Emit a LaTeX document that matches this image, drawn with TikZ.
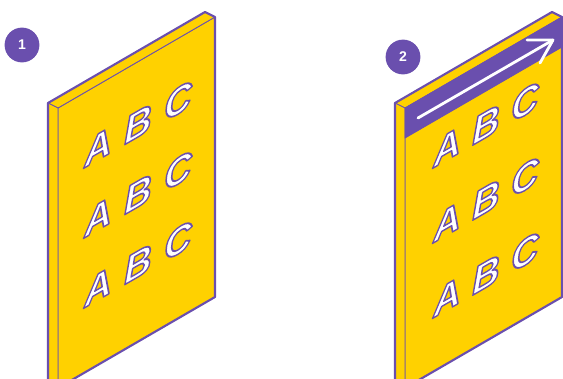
\documentclass[tikz,border=0pt]{standalone}
\usepackage{fontspec}
\setsansfont{Liberation Sans}
\usetikzlibrary{calc}
\definecolor{lilac}{HTML}{6A4FAE}
\definecolor{gold}{HTML}{FFD100}
\tikzset{
  face/.style={fill=gold, draw=lilac, line width=0.6pt, line join=round},
  rim/.style={draw=lilac, line width=1.5pt, line join=round},
  band/.style={fill=lilac, draw=lilac, line width=0.6pt, line join=round},
  badge/.style={circle, fill=lilac, text=white, minimum size=0.87cm, inner sep=0pt,
    font=\sffamily\bfseries},
  letter/.style={font=\sffamily\bfseries\itshape\fontsize{27}{27}\selectfont, inner sep=0pt},
  sweep/.style={draw=white, line width=2pt, line cap=round, line join=round}
}
% white glyph with a lilac outline (fill + stroke render mode)
\newcommand{\glyph}[1]{%
  \special{pdf:literal direct q 1 g 0.416 0.310 0.682 RG 2 Tr 1.1 w 1 j}#1%
  \special{pdf:literal direct Q}}

\begin{document}
\begin{tikzpicture}[x=0.025cm, y=0.025cm]
  \useasboundingbox (0,0) rectangle (563,378);
  \clip (0,0) rectangle (563,378);

  % ---- the two boards, same body, shifted ----
  \foreach \bx in {0,347} {
    \begin{scope}[xshift=\bx*0.025cm]
      \coordinate (tl) at (58,270);
      \coordinate (tr) at (215,361);
      \coordinate (br) at (215,81);
      \coordinate (bl) at (58,-10);
      \draw[face] (bl) -- (tl) -- (tr) -- (br) -- cycle;
      \draw[face] (tl) -- ($(tl)+(-10,5)$) -- ($(tr)+(-10,5)$) -- (tr) -- cycle;
      \draw[face] (tl) -- ($(tl)+(-10,5)$) -- ($(bl)+(-10,5)$) -- (bl) -- cycle;
    \end{scope}
  }

  % ---- purple band across the top of board 2 ----
  \draw[band] (405,270) -- (562,361) -- (562,331) -- (405,240) -- cycle;

  % outer rims
  \foreach \bx in {0,347} {
    \begin{scope}[xshift=\bx*0.025cm]
      \draw[rim] (48,-5) -- (48,275) -- (205,366) -- (215,361) -- (215,81) -- (58,-10);
    \end{scope}
  }

  % ---- reading direction arrow ----
  \coordinate (a0) at (418,260);
  \coordinate (a1) at (553,338);
  \draw[sweep] (a0) -- (a1);
  \draw[sweep] ($(a1)+(-26,0)$) -- (a1) -- ($(a1)+(-13,-23)$);

  % ---- letters ----
  \begin{scope}[shift={(98,231)}, yslant=0.577, transform shape]
    \foreach \r in {0,1,2}
      \foreach \c/\ch in {0/A,1/B,2/C}
        \node[letter] (one-\r\c) at (40*\c, -70*\r) {\glyph{\ch}};
  \end{scope}
  \begin{scope}[shift={(447,231)}, yslant=0.577, transform shape]
    \foreach \r in {0,1,2}
      \foreach \c/\ch in {0/A,1/B,2/C}
        \node[letter] (two-\r\c) at (39*\c, -75*\r) {\glyph{\ch}};
  \end{scope}

  % ---- step badges ----
  \node[badge] (n1) at (22,333) {1};
  \node[badge] (n2) at (403,321) {2};
\end{tikzpicture}
\end{document}
